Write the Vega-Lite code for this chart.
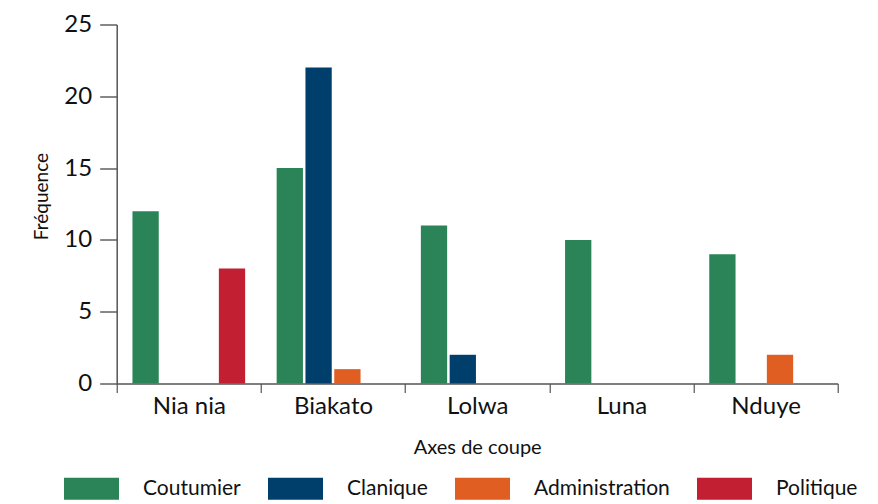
{
  "$schema": "https://vega.github.io/schema/vega-lite/v6.json",
  "autosize": "none",
  "padding": {"left": 116.7, "top": 24.5, "right": 40.3, "bottom": 120.5},
  "width": 721,
  "height": 359,
  "background": "white",
  "config": {
    "view": {"stroke": null},
    "font": "Lato",
    "text": {"font": "Lato"}
  },
  "data": {
    "values": [
      {"site": "Nia nia", "axe": "Coutumier", "freq": 12},
      {"site": "Nia nia", "axe": "Clanique", "freq": 0},
      {"site": "Nia nia", "axe": "Administration", "freq": 0},
      {"site": "Nia nia", "axe": "Politique", "freq": 8},
      {"site": "Biakato", "axe": "Coutumier", "freq": 15},
      {"site": "Biakato", "axe": "Clanique", "freq": 22},
      {"site": "Biakato", "axe": "Administration", "freq": 1},
      {"site": "Biakato", "axe": "Politique", "freq": 0},
      {"site": "Lolwa", "axe": "Coutumier", "freq": 11},
      {"site": "Lolwa", "axe": "Clanique", "freq": 2},
      {"site": "Lolwa", "axe": "Administration", "freq": 0},
      {"site": "Lolwa", "axe": "Politique", "freq": 0},
      {"site": "Luna", "axe": "Coutumier", "freq": 10},
      {"site": "Luna", "axe": "Clanique", "freq": 0},
      {"site": "Luna", "axe": "Administration", "freq": 0},
      {"site": "Luna", "axe": "Politique", "freq": 0},
      {"site": "Nduye", "axe": "Coutumier", "freq": 9},
      {"site": "Nduye", "axe": "Clanique", "freq": 0},
      {"site": "Nduye", "axe": "Administration", "freq": 2},
      {"site": "Nduye", "axe": "Politique", "freq": 0}
    ]
  },
  "mark": {"type": "bar"},
  "encoding": {
    "x": {
      "field": "site",
      "type": "nominal",
      "sort": ["Nia nia", "Biakato", "Lolwa", "Luna", "Nduye"],
      "scale": {"paddingInner": 0, "paddingOuter": 0},
      "axis": {
        "title": "Axes de coupe",
        "labelAngle": 0,
        "tickBand": "extent",
        "tickSize": 9,
        "tickColor": "#333333",
        "domainColor": "#555555",
        "domainWidth": 1.5,
        "labelFontSize": 24,
        "labelColor": "#111111",
        "labelPadding": 2,
        "labelFont": "Lato",
        "titleFont": "Lato",
        "titleFontSize": 20,
        "titleFontWeight": "normal",
        "titleColor": "#111111",
        "titlePadding": 19
      }
    },
    "xOffset": {
      "field": "axe",
      "type": "nominal",
      "sort": ["Coutumier", "Clanique", "Administration", "Politique"],
      "scale": {"paddingInner": 0.087, "paddingOuter": 0.547}
    },
    "y": {
      "field": "freq",
      "type": "quantitative",
      "scale": {"domain": [0, 25], "nice": false},
      "axis": {
        "title": "Fréquence",
        "values": [0, 5, 10, 15, 20, 25],
        "grid": false,
        "tickSize": 17,
        "tickColor": "#111111",
        "domainColor": "#555555",
        "domainWidth": 1.5,
        "labelFontSize": 24,
        "labelColor": "#111111",
        "labelPadding": 8,
        "labelFont": "Lato",
        "titleFont": "Lato",
        "titleFontSize": 19,
        "titleFontWeight": "normal",
        "titleColor": "#111111",
        "titlePadding": 12,
        "titleY": 171.5
      }
    },
    "color": {
      "field": "axe",
      "type": "nominal",
      "sort": ["Coutumier", "Clanique", "Administration", "Politique"],
      "scale": {
        "domain": ["Coutumier", "Clanique", "Administration", "Politique"],
        "range": ["#2a8457", "#003f6b", "#e05e21", "#c31f32"]
      },
      "legend": {
        "title": null,
        "orient": "none",
        "direction": "horizontal",
        "legendX": -52.7,
        "legendY": 436.5,
        "symbolType": "M-1,-0.4L1,-0.4L1,0.4L-1,0.4Z",
        "symbolSize": 3025,
        "symbolStrokeWidth": 0,
        "symbolOpacity": 1,
        "labelFont": "Lato",
        "labelFontSize": 21,
        "labelColor": "#111111",
        "labelOffset": 24,
        "columnPadding": 27,
        "labelLimit": 300
      }
    }
  }
}
